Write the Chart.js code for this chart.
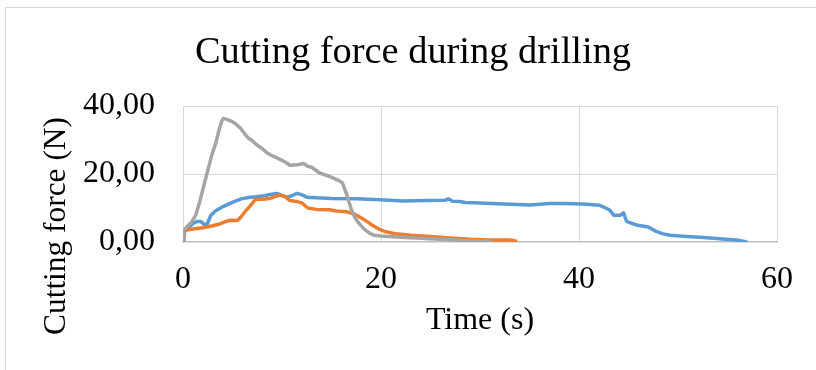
<!DOCTYPE html>
<html>
<head>
<meta charset="utf-8">
<script src="https://cdn.jsdelivr.net/npm/chart.js@4/dist/chart.umd.min.js"></script>
<style>
  html, body { margin: 0; padding: 0; background: #ffffff; }
  #wrap { position: relative; width: 816px; height: 370px; overflow: hidden; }
  #frame { position: absolute; left: 5px; top: 7px; width: 830px; height: 380px;
           border-top: 1px solid #d9d9d9; border-left: 1px solid #d9d9d9; }
  canvas { position: absolute; left: 0; top: 0; }
</style>
</head>
<body>
<div id="wrap">
  <div id="frame"></div>
  <canvas id="c" width="816" height="370"></canvas>
</div>
<script>
// ---- Data ----
const chartTitle = 'Cutting force during drilling';
const xAxisTitle = 'Time (s)';
const yAxisTitle = 'Cutting force (N)';

const xTickValues = [0, 20, 40, 60];
const xTickLabels = ['0', '20', '40', '60'];
const yTickValues = [0, 20, 40];
const yTickLabels = ['0,00', '20,00', '40,00'];

// Series 1 (blue)
const timeBlue  = [0, 0.2, 0.6, 1.0, 1.4, 1.8, 2.2, 2.5, 2.8, 3.3, 4.1, 5.1, 5.9, 6.6, 7.4, 8.2, 8.8, 9.5, 10.1, 10.5, 11.0, 11.5, 12.0, 12.5, 13.5, 15.0, 17.5, 19.9, 22.3, 24.5, 26.5, 26.8, 27.2, 28.0, 28.5, 30.0, 32.4, 35.1, 37.0, 38.5, 40.4, 42.1, 42.7, 43.1, 43.5, 44.2, 44.5, 44.8, 45.8, 47.0, 47.8, 48.5, 49.2, 50.5, 52.6, 54.5, 55.9, 56.6, 56.9];
const forceBlue = [0, 3.5, 4.2, 5.5, 6.0, 6.0, 5.0, 5.6, 7.8, 9.2, 10.5, 11.8, 12.7, 13.1, 13.3, 13.6, 14.0, 14.3, 13.6, 13.2, 13.6, 14.3, 13.9, 13.2, 13.0, 12.8, 12.7, 12.4, 12.1, 12.2, 12.3, 12.7, 12.0, 11.9, 11.6, 11.5, 11.2, 10.9, 11.3, 11.3, 11.2, 10.8, 10.0, 9.4, 7.9, 7.9, 8.6, 6.1, 5.0, 4.4, 3.1, 2.4, 2.0, 1.7, 1.3, 0.9, 0.6, 0.2, 0.0];

// Series 2 (orange)
const timeOrange  = [0, 0.1, 0.5, 1.0, 2.0, 3.0, 3.7, 4.3, 4.8, 5.5, 5.9, 6.4, 6.9, 7.3, 8.0, 8.8, 9.3, 9.8, 10.3, 10.8, 11.5, 12.0, 12.6, 13.5, 14.8, 15.5, 16.5, 17.3, 17.9, 18.6, 19.2, 19.8, 20.5, 21.5, 23.0, 25.0, 27.0, 29.0, 31.0, 33.0, 33.6];
const forceOrange = [0, 3.3, 3.6, 3.8, 4.2, 4.8, 5.3, 6.0, 6.4, 6.3, 7.5, 9.4, 11.0, 12.5, 12.6, 12.8, 13.4, 13.8, 13.4, 12.2, 11.9, 11.5, 10.0, 9.6, 9.5, 9.1, 8.9, 8.2, 7.3, 6.0, 4.8, 3.8, 3.0, 2.4, 2.0, 1.6, 1.2, 0.8, 0.6, 0.6, 0.3];

// Series 3 (gray)
const timeGray  = [0, 0.1, 0.4, 0.9, 1.3, 1.7, 2.1, 2.5, 2.9, 3.3, 3.6, 3.9, 4.1, 4.5, 4.9, 5.3, 5.8, 6.2, 6.6, 7.0, 7.4, 8.0, 8.5, 9.0, 9.8, 10.4, 10.8, 11.5, 12.2, 12.6, 13.0, 13.8, 14.5, 15.2, 15.8, 16.1, 16.5, 17.0, 17.4, 17.8, 18.3, 18.8, 19.3, 20.0, 22.0, 24.0, 26.0, 28.0, 30.0, 31.0];
const forceGray = [0, 3.5, 4.5, 6.0, 8.0, 12.0, 16.5, 21.0, 25.5, 29.0, 32.5, 35.5, 36.4, 36.0, 35.5, 34.8, 33.5, 32.0, 30.6, 29.8, 28.7, 27.5, 26.2, 25.4, 24.3, 23.4, 22.6, 22.7, 23.1, 22.3, 22.0, 20.3, 19.6, 18.8, 18.0, 17.4, 14.3, 9.6, 7.0, 5.4, 3.8, 2.7, 2.0, 1.8, 1.4, 1.1, 0.8, 0.5, 0.3, 0.3];

const colorBlue = '#5B9BD5';
const colorOrange = '#ED7D31';
const colorGray = '#A5A5A5';

function pairs(xs, ys) { return xs.map((x, i) => ({ x: x, y: ys[i] })); }

const SERIF = '"Liberation Serif", "Times New Roman", serif';

const yTitlePlugin = {
  id: 'yTitlePlugin',
  afterDraw(chart) {
    const ctx = chart.ctx;
    const area = chart.chartArea;
    ctx.save();
    ctx.font = '32px ' + SERIF;
    const w = ctx.measureText(yAxisTitle).width;
    const size = Math.min(32, 32 * 218 / w);
    ctx.font = size.toFixed(2) + 'px ' + SERIF;
    ctx.translate(57, area.bottom - 16);
    ctx.rotate(-Math.PI / 2);
    ctx.fillStyle = '#000000';
    ctx.textAlign = 'center';
    ctx.textBaseline = 'middle';
    ctx.fillText(yAxisTitle, 0, 0);
    ctx.restore();
  }
};

new Chart(document.getElementById('c'), {
  type: 'line',
  data: {
    datasets: [
      { label: 'Series1', data: pairs(timeBlue, forceBlue), borderColor: colorBlue, order: 3 },
      { label: 'Series2', data: pairs(timeOrange, forceOrange), borderColor: colorOrange, order: 2 },
      { label: 'Series3', data: pairs(timeGray, forceGray), borderColor: colorGray, order: 1 }
    ]
  },
  options: {
    responsive: false,
    devicePixelRatio: 1,
    animation: false,
    elements: {
      line: { borderWidth: 3.5, tension: 0, fill: false, borderJoinStyle: 'round', borderCapStyle: 'round' },
      point: { radius: 0 }
    },
    layout: { padding: { left: 10, right: 0, top: 0, bottom: 0 } },
    plugins: {
      legend: { display: false },
      tooltip: { enabled: false },
      title: {
        display: true,
        text: chartTitle,
        color: '#000000',
        font: { family: SERIF, size: 38.4, weight: 'normal' },
        padding: { top: 30, bottom: 30 }
      }
    },
    scales: {
      x: {
        type: 'linear',
        min: xTickValues[0],
        max: xTickValues[xTickValues.length - 1],
        afterBuildTicks: (scale) => { scale.ticks = xTickValues.map(v => ({ value: v })); },
        afterFit: (scale) => { scale.height = 128; scale.paddingRight = 39; },
        ticks: {
          padding: 18,
          color: '#000000',
          font: { family: SERIF, size: 32 },
          maxRotation: 0,
          callback: (v) => { const i = xTickValues.indexOf(v); return i >= 0 ? xTickLabels[i] : ''; }
        },
        grid: { color: '#d9d9d9', lineWidth: 1, drawTicks: false },
        border: { color: '#bfbfbf', width: 1.5 },
        title: {
          display: true,
          text: xAxisTitle,
          color: '#000000',
          font: { family: SERIF, size: 32 },
          padding: { top: 30, bottom: 30 }
        }
      },
      y: {
        type: 'linear',
        min: yTickValues[0],
        max: yTickValues[yTickValues.length - 1],
        afterBuildTicks: (scale) => { scale.ticks = yTickValues.map(v => ({ value: v })); },
        afterFit: (scale) => { scale.width = 173; },
        ticks: {
          padding: 28,
          color: '#000000',
          font: { family: SERIF, size: 32 },
          callback: (v) => { const i = yTickValues.indexOf(v); return i >= 0 ? yTickLabels[i] : ''; }
        },
        grid: {
          color: (c) => (c.tick && c.tick.value === 0) ? 'rgba(0,0,0,0)' : '#d9d9d9',
          lineWidth: 1,
          drawTicks: false
        },
        border: { color: '#d9d9d9', width: 1 }
      }
    }
  },
  plugins: [yTitlePlugin]
});
</script>
</body>
</html>
